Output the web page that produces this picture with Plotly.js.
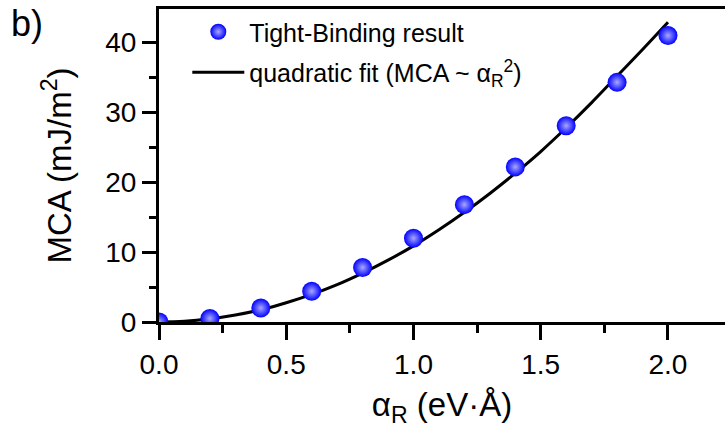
<!DOCTYPE html>
<html>
<head>
<meta charset="utf-8">
<script src="https://cdn.plot.ly/plotly-3.0.1.min.js"></script>
<style>html,body{margin:0;padding:0;background:#fff;}#chart{width:725px;height:434px;}</style>
</head>
<body>
<div id="chart"></div>
<script>
// Tight-binding results
const alphaR = [0.0, 0.2, 0.4, 0.6, 0.8, 1.0, 1.2, 1.4, 1.6, 1.8, 2.0];
const mcaTB = [0.0, 0.5, 2.0, 4.4, 7.8, 12.0, 16.8, 22.2, 28.1, 34.3, 41.0];

// Quadratic fit curve
const fitX = [0.0, 0.1, 0.2, 0.3, 0.4, 0.5, 0.6, 0.7, 0.8, 0.9, 1.0, 1.1, 1.2, 1.3, 1.4, 1.5, 1.6, 1.7, 1.8, 1.9, 2.0];
const fitY = [0.0, 0.1, 0.45, 1.0, 1.75, 2.75, 3.95, 5.35, 7.0, 8.85, 10.9, 13.2, 15.7, 18.4, 21.3, 24.4, 27.8, 31.4, 35.2, 39.0, 42.9];

const xTickVals = [0, 0.5, 1.0, 1.5, 2.0];
const xTickText = ['0.0', '0.5', '1.0', '1.5', '2.0'];
const yTickVals = [0, 10, 20, 30, 40];
const yTickText = ['0', '10', '20', '30', '40'];

const font = 'Liberation Sans, Arial, sans-serif';

const fitTrace = {
  x: fitX, y: fitY, type: 'scatter', mode: 'lines',
  name: 'quadratic fit (MCA ~ α<sub>R</sub><sup>2</sup>)', legendgroup: 'b', legendrank: 2,
  line: {color: '#000', width: 3, shape: 'spline'},
  cliponaxis: true
};
const tbTrace = {
  x: alphaR, y: mcaTB, type: 'scatter', mode: 'markers',
  name: 'Tight-Binding result', legendgroup: 'a', legendrank: 1,
  marker: {size: 19, color: '#0000ff', line: {width: 0},
           gradient: {type: 'radial', color: '#a8a8ff'}},
  cliponaxis: true
};
// draw the line beneath the markers
const data = [fitTrace, tbTrace];

const layout = {
  width: 725, height: 434,
  margin: {l: 159, r: 0, t: 9, b: 112},
  paper_bgcolor: '#fff', plot_bgcolor: '#fff',
  font: {family: font, color: '#000'},
  showlegend: true,
  legend: {x: 0.05, y: 1.0, xanchor: 'left', yanchor: 'top', bgcolor: 'rgba(0,0,0,0)',
           font: {size: 25, family: font}, traceorder: 'grouped', tracegroupgap: 5,
           itemwidth: 52},
  xaxis: {
    range: [0, 2.224], tickvals: xTickVals, ticktext: xTickText,
    showline: true, linecolor: '#000', linewidth: 3, mirror: true,
    ticks: 'outside', ticklen: 15, tickwidth: 3, tickcolor: '#000',
    tickfont: {size: 28, family: font},
    minor: {dtick: 0.25, tick0: 0, ticks: 'outside', ticklen: 8, tickwidth: 3, tickcolor: '#000', showgrid: false},
    showgrid: false, zeroline: false,
    title: {text: 'α<sub>R</sub> (eV·Å)', font: {size: 33, family: font}, standoff: 15}
  },
  yaxis: {
    range: [0, 44.8], tickvals: yTickVals, ticktext: yTickText,
    showline: true, linecolor: '#000', linewidth: 3, mirror: false,
    ticks: 'outside', ticklen: 14, tickwidth: 3, tickcolor: '#000',
    tickfont: {size: 28, family: font},
    minor: {dtick: 5, tick0: 0, ticks: 'outside', ticklen: 7, tickwidth: 3, tickcolor: '#000', showgrid: false},
    showgrid: false, zeroline: false,
    title: {text: 'MCA (mJ/m<sup>2</sup>)', font: {size: 33, family: font}, standoff: 24}
  },
  annotations: [
    {text: 'b)', xref: 'paper', yref: 'paper', x: -0.265, y: 1.025, xanchor: 'left', yanchor: 'top',
     showarrow: false, font: {size: 36, family: font}}
  ]
};

Plotly.newPlot('chart', data, layout, {staticPlot: true});
</script>
</body>
</html>
